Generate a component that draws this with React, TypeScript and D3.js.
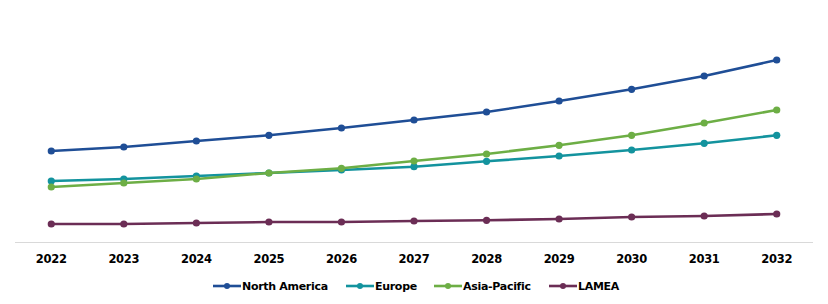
import React from "react";
import * as d3 from "d3";

const years = ["2022","2023","2024","2025","2026","2027","2028","2029","2030","2031","2032"];
const northAmerica = [91, 95, 101, 106.7, 114, 122, 130, 141, 152.7, 166, 182];
const europe = [61, 63, 66, 69, 72, 75.3, 80.7, 86, 92, 98.7, 106.7];
const asiaPacific = [55, 59, 63, 69, 73.7, 81, 88, 96.7, 106.7, 119, 132];
const lamea = [18, 18, 19, 20, 20, 21, 21.7, 23, 25, 26, 28];
const seriesNames = ["North America", "Europe", "Asia-Pacific", "LAMEA"];
const colors = ["#1F4E96", "#13939E", "#6DAE45", "#6B2D55"];

const W = 828, H = 304;

export default function App() {
  const seriesData = [northAmerica, europe, asiaPacific, lamea];
  const x = d3.scaleBand().domain(years).range([15, 813]);
  const y = d3.scaleLinear().domain([0, 220]).range([242, 22]);
  const line = d3.line<number>()
    .x((_, i) => (x(years[i]) as number) + x.bandwidth() / 2)
    .y((d) => y(d));
  const legendX = [213, 346, 434, 549];
  const font = "'DejaVu Sans', Verdana, sans-serif";
  return (
    <svg width={W} height={H} style={{ position: "absolute", left: 0, top: 0, background: "#fff" }}>
      <line x1={15} x2={813} y1={y(0) + 0.5} y2={y(0) + 0.5} stroke="#d9d9d9" strokeWidth={1} />
      {years.map((yr) => (
        <text key={yr} x={(x(yr) as number) + x.bandwidth() / 2} y={263} textAnchor="middle"
          fontFamily={font} fontWeight="bold" fontSize={11.5} fill="#000" letterSpacing={-0.3}>{yr}</text>
      ))}
      {seriesData.map((s, si) => (
        <g key={si}>
          <path d={line(s) as string} fill="none" stroke={colors[si]} strokeWidth={2.6} strokeLinejoin="round" />
          {s.map((v, i) => (
            <circle key={i} cx={(x(years[i]) as number) + x.bandwidth() / 2} cy={y(v)} r={3.6} fill={colors[si]} />
          ))}
        </g>
      ))}
      {seriesNames.map((n, i) => (
        <g key={n} transform={`translate(${legendX[i]},286)`}>
          <line x1={0} x2={28} y1={0} y2={0} stroke={colors[i]} strokeWidth={2.6} />
          <circle cx={14} cy={0} r={3} fill={colors[i]} />
          <text x={29} y={4} fontFamily={font} fontWeight="bold" fontSize={11} letterSpacing={-0.3} fill="#000">{n}</text>
        </g>
      ))}
    </svg>
  );
}
